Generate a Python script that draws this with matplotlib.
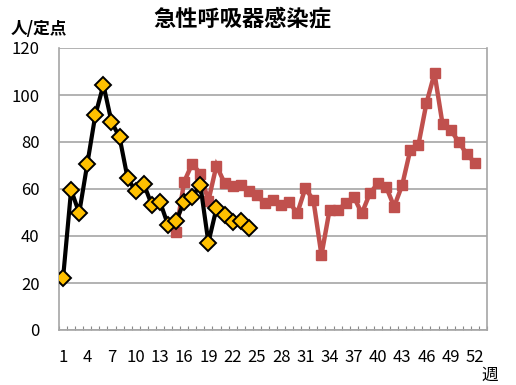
import numpy as np
import matplotlib
matplotlib.use("Agg")
import matplotlib.pyplot as plt
from matplotlib.ticker import FixedLocator

plt.rcParams['font.family'] = ['Noto Sans CJK JP', 'DejaVu Sans']

title = "急性呼吸器感染症"

# 今季 (第1週～第24週)
weeks_now = list(range(1, 25))
cases_now = [22, 59.6, 49.8, 70.6, 91.5, 104.3, 88.6, 82, 64.5, 59.1, 62.1, 53.2,
             54.6, 44.7, 46.4, 54.6, 56.7, 61.7, 37.2, 51.8, 48.9, 46.1, 46.4, 43.3]

# 前季 (第15週～第52週)
weeks_prev = list(range(15, 53))
cases_prev = [41.7, 63.1, 70.8, 66.5, 55, 70, 62.5, 61.3, 61.7, 59, 57.3, 53.9,
              55.3, 53.2, 54.6, 49.6, 60.3, 55.3, 31.9, 51, 51, 53.9, 56.7, 49.6,
              58.2, 62.4, 61, 52.5, 61.7, 76.6, 78.7, 96.5, 109.2, 87.5, 85.1,
              80.1, 74.8, 71.2]

xticks = list(range(1, 53, 3))
yticks = [0, 20, 40, 60, 80, 100, 120]

fig = plt.figure(figsize=(5.16, 3.85), dpi=100)
ax = fig.add_axes([59/516, 1-330/385, (487-59)/516, (330-48)/385])

ax.plot(weeks_prev, cases_prev, color='#C0504D', lw=3.2, marker='s', ms=6.5,
        mec='#C0504D', mfc='#C0504D', zorder=3, solid_joinstyle='miter')
ax.plot(weeks_now, cases_now, color='black', lw=3, marker='D', ms=8,
        mfc='#FFC000', mec='black', mew=1.4, zorder=4)

ax.set_xlim(0.5, 53.5)
ax.set_ylim(0, 120)
ax.set_yticks(yticks)
ax.set_xticks(xticks)
ax.xaxis.set_minor_locator(FixedLocator(np.arange(0.5, 54, 1)))
ax.tick_params(axis='x', which='major', length=0, pad=14, labelsize=12)
ax.tick_params(axis='x', which='minor', length=3, direction='in', color='#888888', width=0.8)
ax.tick_params(axis='y', length=0, pad=14, labelsize=12)
ax.grid(axis='y', color='#a6a6a6', lw=1.2, zorder=0)
for s in ['left', 'bottom', 'right']:
    ax.spines[s].set_color('#a6a6a6')
    ax.spines[s].set_linewidth(1.2)
ax.spines['top'].set_visible(False)

fig.text(242/516, 1-19/385, title, ha='center', va='center', fontsize=16, fontweight='bold')
fig.text(11/516, 1-29/385, "人/定点", ha='left', va='center', fontsize=12, fontweight='bold')
fig.text(490/516, 1-375/385, "週", ha='center', va='center', fontsize=12)

fig.savefig("out.png", dpi=100)
